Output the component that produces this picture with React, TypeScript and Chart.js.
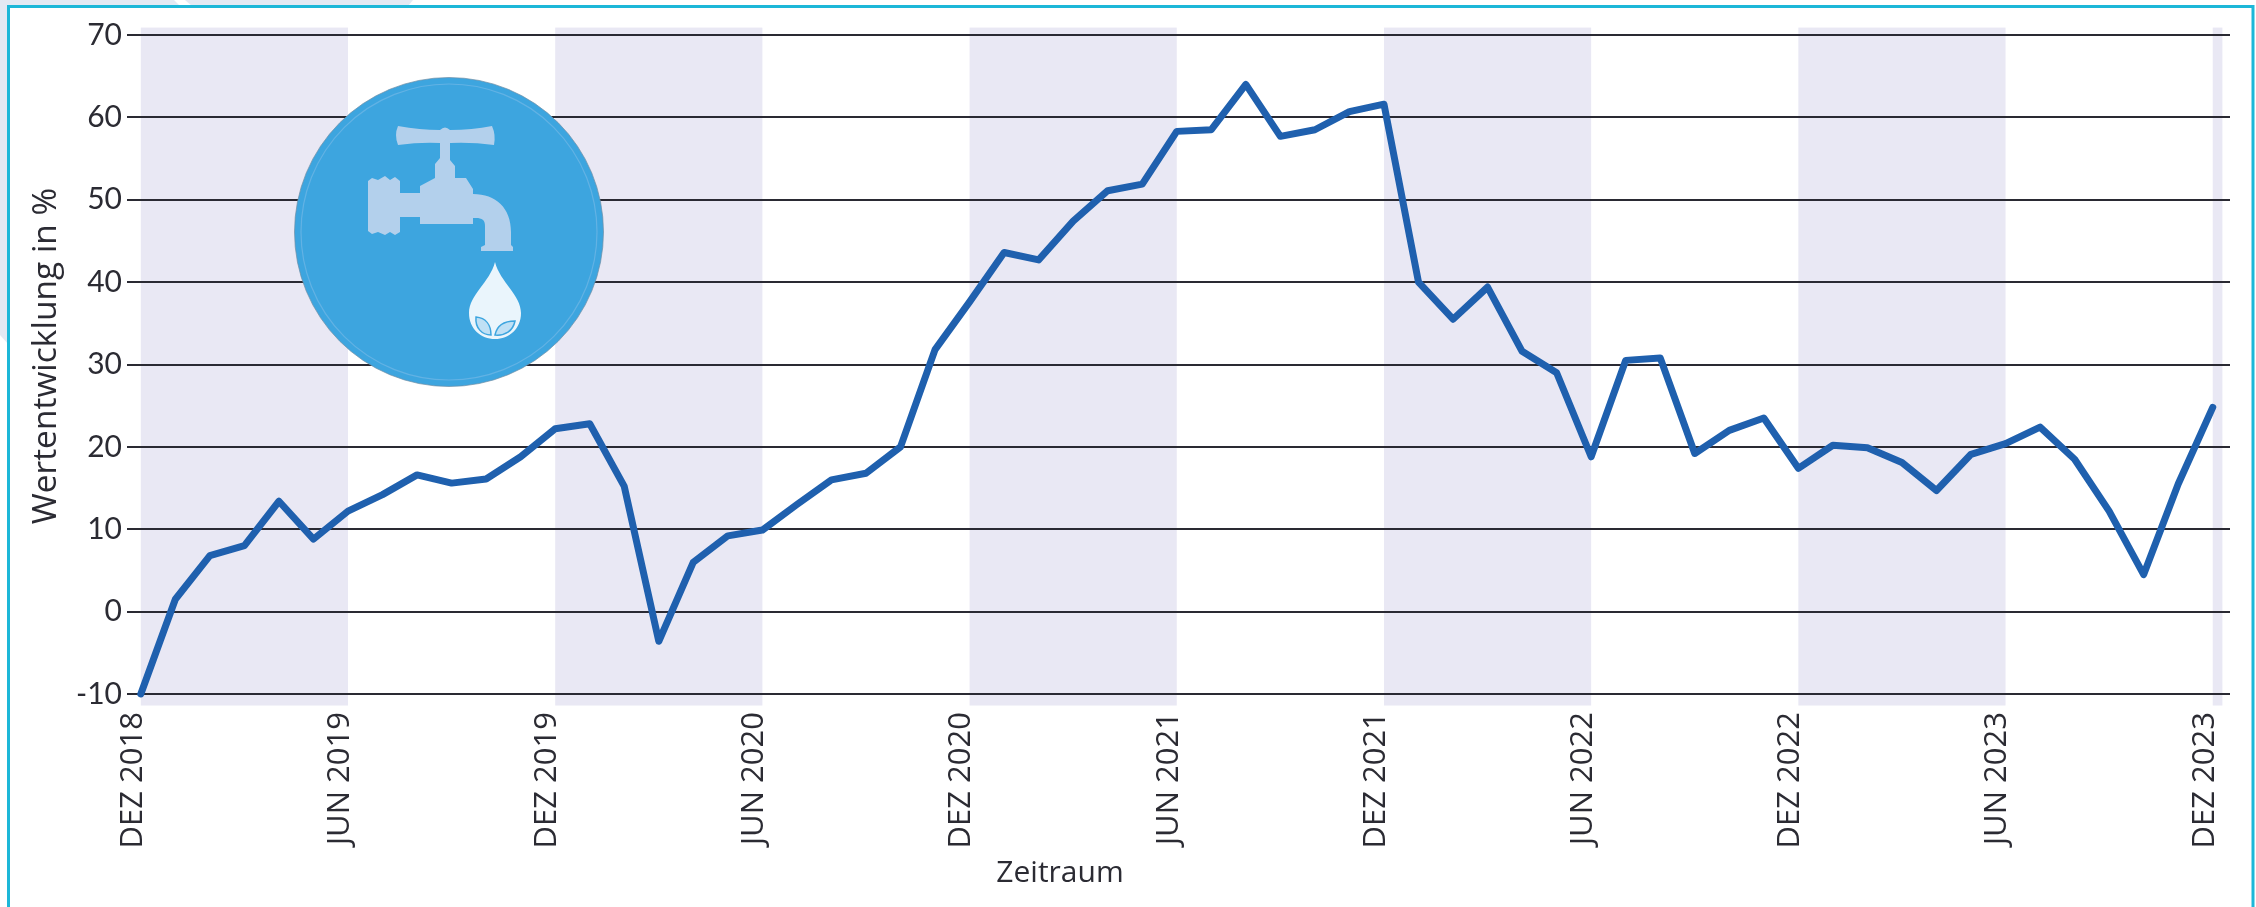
import React, { useEffect, useRef } from "react";
import { Chart, registerables } from "chart.js";

Chart.register(...registerables);

const categories = [
  "DEZ 2018","JAN 2019","FEB 2019","MÄR 2019","APR 2019","MAI 2019","JUN 2019","JUL 2019","AUG 2019","SEP 2019","OKT 2019","NOV 2019",
  "DEZ 2019","JAN 2020","FEB 2020","MÄR 2020","APR 2020","MAI 2020","JUN 2020","JUL 2020","AUG 2020","SEP 2020","OKT 2020","NOV 2020",
  "DEZ 2020","JAN 2021","FEB 2021","MÄR 2021","APR 2021","MAI 2021","JUN 2021","JUL 2021","AUG 2021","SEP 2021","OKT 2021","NOV 2021",
  "DEZ 2021","JAN 2022","FEB 2022","MÄR 2022","APR 2022","MAI 2022","JUN 2022","JUL 2022","AUG 2022","SEP 2022","OKT 2022","NOV 2022",
  "DEZ 2022","JAN 2023","FEB 2023","MÄR 2023","APR 2023","MAI 2023","JUN 2023","JUL 2023","AUG 2023","SEP 2023","OKT 2023","NOV 2023",
  "DEZ 2023",
];
const values = [
  -10, 1.5, 6.8, 8, 13.4, 8.8, 12.2, 14.2, 16.6, 15.6, 16.1, 18.8,
  22.2, 22.8, 15.2, -3.6, 6, 9.2, 9.9, 13, 16, 16.8, 20, 31.8,
  37.6, 43.6, 42.7, 47.4, 51.1, 51.9, 58.3, 58.5, 64, 57.7, 58.5, 60.7,
  61.6, 40, 35.5, 39.4, 31.6, 29, 18.8, 30.5, 30.8, 19.2, 22, 23.5,
  17.4, 20.2, 19.9, 18.1, 14.7, 19.1, 20.4, 22.4, 18.5, 12.2, 4.5, 15.5,
  24.8,
];
const tickMonths = [0, 6, 12, 18, 24, 30, 36, 42, 48, 54, 60];
const bandRanges: [number, number][] = [[0, 6], [12, 18], [24, 30], [36, 42], [48, 54], [60, 60.28]];
const yTicks = [-10, 0, 10, 20, 30, 40, 50, 60, 70];
const xTitle = "Zeitraum";
const yTitle = "Wertentwicklung in %";

const FONT = "Lato, 'Open Sans', sans-serif";
const WIDE = "'Open Sans', Lato, sans-serif";
const INK = "#2b2b33";

const decor = {
  id: "decor",
  beforeDraw(chart: any) {
    const { ctx, width, height, scales } = chart;
    ctx.save();
    ctx.fillStyle = "#ffffff";
    ctx.fillRect(0, 0, width, height);
    // pale page artwork behind the frame
    ctx.fillStyle = "#e3e9f3";
    ctx.fill(new Path2D("M0 0H174L180 6H0Z"));
    ctx.fill(new Path2D("M185 0H413L408 6H192Z"));
    ctx.fill(new Path2D("M0 0H9V345L0 335Z"));
    // frame
    ctx.strokeStyle = "#1cb7d8";
    ctx.lineWidth = 3;
    ctx.beginPath();
    ctx.moveTo(8.5, height);
    ctx.lineTo(8.5, 6.5);
    ctx.lineTo(2253, 6.5);
    ctx.lineTo(2253, height);
    ctx.stroke();
    // half-year bands
    ctx.fillStyle = "#e9e8f4";
    const top = scales.y.getPixelForValue(70.9);
    const bottom = scales.y.getPixelForValue(-11.4);
    for (const [a, b] of bandRanges) {
      const x0 = scales.x.getPixelForValue(a);
      const x1 = scales.x.getPixelForValue(b);
      ctx.fillRect(x0, top, x1 - x0, bottom - top);
    }
    ctx.restore();
  },
  afterDraw(chart: any) {
    const { ctx } = chart;
    ctx.save();
    // axis titles
    ctx.fillStyle = INK;
    ctx.textAlign = "center";
    ctx.textBaseline = "middle";
    ctx.font = `30px ${WIDE}`;
    ctx.fillText(xTitle, 1060, 873);
    ctx.save();
    ctx.translate(46, 356);
    ctx.rotate(-Math.PI / 2);
    ctx.font = `33.5px ${WIDE}`;
    ctx.fillText(yTitle, 0, 0);
    ctx.restore();
    // icon
    ctx.beginPath();
    ctx.arc(449, 232, 154.5, 0, Math.PI * 2);
    ctx.fillStyle = "#3da5df";
    ctx.fill();
    ctx.strokeStyle = "#6f8ea5";
    ctx.lineWidth = 0.7;
    ctx.stroke();
    ctx.beginPath();
    ctx.arc(449, 232, 148, 0, Math.PI * 2);
    ctx.strokeStyle = "#62b2e4";
    ctx.lineWidth = 1.2;
    ctx.stroke();
    ctx.fillStyle = "#b3d0ec";
    const tap = new Path2D(
      "M398 126 Q420 130 440 130 Q445 125 450 130 Q472 130 492 126 Q496 135 494 145 Q472 142 450 143 L450 160 L455 166 L455 178 L466 178 L473 189 L473 194 " +
      "C496 194 511 208 511 232 L511 245 L513 247 L513 251 L481 251 L481 247 L485 245 L485 226 C485 220 482 218 476 218 L473 218 L473 224 L420 224 L420 217 L400 217 " +
      "L400 232 L395 235 L390 232 L385 235 L378 232 L372 234 L368 231 L368 181 L372 178 L378 180 L385 176 L390 180 L395 177 L400 181 L400 193 L420 193 L420 186 L435 178 L435 164 L440 158 L440 143 Q420 142 398 145 Q394 135 398 126Z"
    );
    ctx.fill(tap);
    ctx.fillStyle = "#eaf5fc";
    ctx.fill(new Path2D("M495 262 C490 282 469 295 469 313 C469 329 481 339 495 339 C509 339 521 329 521 313 C521 295 500 282 495 262Z"));
    ctx.strokeStyle = "#3da5df";
    ctx.lineWidth = 1.5;
    ctx.fillStyle = "#bfe0f5";
    ctx.fill(new Path2D("M476 317 C486 318 491 325 491 335 C482 335 475 328 476 317Z"));
    ctx.fill(new Path2D("M515 321 C505 321 497 325 495 335 C505 336 513 331 515 321Z"));
    ctx.stroke(new Path2D("M476 317 C486 318 491 325 491 335 C482 335 475 328 476 317Z"));
    ctx.stroke(new Path2D("M515 321 C505 321 497 325 495 335 C505 336 513 331 515 321Z"));
    ctx.restore();
  },
};

export default function App() {
  const ref = useRef<HTMLCanvasElement>(null);
  useEffect(() => {
    const chart = new Chart(ref.current!, {
      type: "line",
      data: {
        labels: categories,
        datasets: [
          {
            data: values.map((y, i) => ({ x: i, y })),
            borderColor: "#1f60ae",
            borderWidth: 7,
            borderJoinStyle: "round",
            borderCapStyle: "round",
            pointRadius: 0,
            tension: 0,
            clip: false,
          },
        ],
      },
      options: {
        animation: false,
        responsive: false,
        devicePixelRatio: 1,
        layout: { padding: { left: 0, top: 35, right: 26, bottom: 0 } },
        plugins: { legend: { display: false }, tooltip: { enabled: false } },
        scales: {
          x: {
            type: "linear",
            min: -0.4,
            max: 60.5,
            afterBuildTicks(scale: any) {
              scale.ticks = tickMonths.map((value) => ({ value }));
            },
            afterFit(scale: any) {
              scale.height = 213;
              scale.paddingLeft = 0;
              scale.paddingRight = 0;
            },
            grid: { display: false, drawTicks: false },
            border: { display: false },
            ticks: {
              autoSkip: false,
              minRotation: 90,
              maxRotation: 90,
              padding: 18,
              labelOffset: -8,
              color: INK,
              font: { family: WIDE, size: 31 },
              callback: (v: any) => categories[v as number],
            },
          },
          y: {
            min: -10,
            max: 70,
            afterBuildTicks(scale: any) {
              scale.ticks = yTicks.map((value) => ({ value }));
            },
            afterFit(scale: any) {
              scale.width = 127;
              scale.paddingTop = 0;
              scale.paddingBottom = 0;
            },
            grid: { color: "#2a2a33", lineWidth: 2, drawTicks: false },
            border: { display: false },
            ticks: {
              padding: 5,
              color: INK,
              font: { family: FONT, size: 30 },
            },
          },
        },
      },
      plugins: [decor],
    } as any);
    return () => chart.destroy();
  }, []);
  return (
    <div style={{ position: "fixed", left: 0, top: 0 }}>
      <canvas ref={ref} width={2256} height={907} style={{ display: "block", width: 2256, height: 907 }} />
    </div>
  );
}
